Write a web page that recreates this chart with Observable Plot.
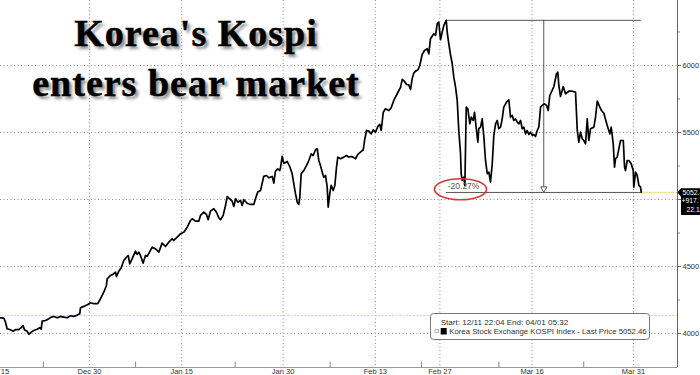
<!DOCTYPE html>
<html><head><meta charset="utf-8">
<script src="https://cdn.jsdelivr.net/npm/d3@7"></script>
<script src="https://cdn.jsdelivr.net/npm/@observablehq/plot@0.6"></script>
<style>
html,body{margin:0;padding:0;background:#fff;}
#wrap{position:relative;width:700px;height:375px;overflow:hidden;}
#title{position:absolute;left:0;top:8px;width:392px;text-align:center;font-family:"Liberation Serif","Times New Roman",serif;font-weight:bold;font-size:38px;line-height:50px;letter-spacing:1px;color:#000;-webkit-text-stroke:0.5px #000;text-shadow:3px 3px 3px rgba(0,0,0,0.45);pointer-events:none;}
#legend{position:absolute;left:430px;top:313px;}
</style></head>
<body><div id="wrap"><div id="chart"></div><div id="title">Korea's Kospi<br>enters bear market</div><div id="legend"></div></div>
<script>
// trading-day index (Dec 15 = 0) and KOSPI index level
const day = [0.35,0.71,0.89,1.07,1.43,1.72,1.97,2.33,2.59,2.81,2.95,3.24,3.42,3.68,3.96,4.33,4.61,4.76,4.87,5.23,5.59,5.85,6.13,6.50,6.85,7.21,7.58,7.94,8.30,8.67,8.95,9.02,9.38,9.82,10.11,10.47,10.90,11.19,11.55,11.84,11.92,12.28,12.64,12.82,12.93,13.18,13.44,13.72,14.01,14.20,14.37,14.63,14.99,15.17,15.35,15.53,15.82,16.07,16.26,16.80,17.16,17.52,17.88,18.24,18.60,18.97,19.14,19.51,19.87,20.23,20.60,20.95,21.14,21.50,21.85,22.04,22.40,22.69,22.87,23.12,23.48,23.77,24.02,24.21,24.50,24.75,24.94,25.22,25.48,25.65,25.84,26.08,26.38,26.56,26.74,27.10,27.46,27.82,28.00,28.25,28.55,28.90,29.20,29.45,29.82,29.99,30.17,30.42,30.64,30.72,30.90,31.07,31.44,31.72,31.98,32.16,32.34,32.53,32.70,32.81,32.96,33.24,33.54,33.79,34.05,34.26,34.51,34.70,34.87,35.05,35.24,35.41,35.60,35.78,35.89,36.06,36.21,36.43,36.61,36.79,36.93,37.22,37.58,37.87,38.12,38.38,38.60,38.85,39.10,39.39,39.69,39.83,40.04,40.29,40.55,40.77,41.02,41.27,41.49,41.64,41.86,42.10,42.46,42.72,43.00,43.37,43.73,43.92,44.17,44.38,44.63,44.82,45.00,45.17,45.36,45.61,45.82,46.08,46.33,46.63,46.80,46.98,47.34,47.53,47.71,47.88,48.07,48.25,48.43,48.69,48.80,48.97,49.15,49.34,49.51,49.70,49.88,50.05,50.24,50.31,50.42,50.60,50.71,50.86,51.03,51.25,51.40,51.62,51.76,51.97,52.12,52.22,52.41,52.59,52.77,52.95,53.14,53.31,53.49,53.68,53.85,54.04,54.22,54.39,54.58,54.76,54.93,55.23,55.48,55.66,55.85,56.02,56.20,56.39,56.56,56.75,56.93,57.10,57.29,57.47,57.65,57.83,58.02,58.19,58.37,58.56,58.73,58.92,59.10,59.35,59.57,59.75,59.92,60.18,60.36,60.65,60.79,60.90,61.08,61.38,61.63,61.99,62.35,62.71,62.90,63.07,63.25,63.44,63.61,63.80,63.98,64.15,64.34,64.70,64.88,65.07,65.35,65.53,65.78,66.15,66.43,66.58,66.80,66.94,67.05,67.23,67.41,67.59,67.89,68.03,68.13,68.32,68.49,68.75,68.97,69.03,69.22,69.40,69.58,69.76,69.84];
const kospi = [4117,4114,4084,4035,4028,4017,4028,4028,4043,4058,4028,4017,3993,4010,4022,4032,4043,4032,4092,4097,4110,4122,4127,4117,4127,4122,4117,4132,4127,4137,4147,4192,4202,4216,4229,4222,4222,4259,4308,4358,4408,4433,4446,4458,4425,4465,4490,4545,4569,4582,4520,4558,4614,4590,4607,4582,4525,4582,4575,4644,4632,4607,4674,4649,4681,4707,4694,4719,4744,4756,4793,4843,4856,4838,4838,4881,4905,4888,4849,4913,4931,4905,4864,4849,4881,4955,5022,5005,4987,4948,5005,4980,4993,4955,4998,4972,4963,4963,5005,5055,5067,5172,5179,5162,5172,5122,5211,5229,5216,5239,5321,5269,5284,5246,5192,5117,5043,4980,4963,5017,5192,5216,5254,5291,5341,5328,5371,5378,5291,5254,5204,5166,5179,5092,4943,5043,5105,5067,5105,5241,5316,5304,5316,5328,5316,5321,5316,5304,5336,5353,5371,5440,5515,5510,5490,5520,5502,5545,5560,5515,5651,5677,5664,5684,5739,5789,5836,5896,5881,5858,5855,5821,5903,5943,5958,5966,6000,6082,6112,6125,6087,6199,6237,6224,6311,6323,6192,6249,6299,6337,6246,6162,6082,6013,5913,5838,5739,5515,5341,5192,5142,5166,5105,5689,5677,5565,5614,5590,5651,5515,5428,5528,5540,5602,5465,5291,5192,5204,5129,5266,5478,5565,5590,5528,5540,5602,5689,5726,5744,5614,5627,5590,5602,5577,5565,5590,5528,5540,5490,5515,5485,5502,5478,5485,5470,5515,5540,5689,5702,5714,5702,5664,5776,5814,5843,5938,5950,5851,5769,5843,5789,5808,5808,5801,5515,5428,5502,5453,5440,5416,5602,5440,5528,5540,5614,5734,5689,5664,5644,5552,5490,5540,5416,5241,5304,5316,5378,5440,5440,5241,5216,5291,5291,5266,5216,5092,5204,5179,5105,5092,5052.46];

const tickDays = [0, 10, 20, 31, 41, 48, 58, 69];
const tickLabels = ["Dec 15","Dec 30","Jan 15","Jan 30","Feb 13","Feb 27","Mar 16","Mar 31"];
const minorDays = [5, 15, 25.8, 36.1, 46, 54.4, 63.6];
const yTicks = [4000, 4500, 5000, 5500, 6000];
const yMinor = [4250, 4750, 5250, 5750, 6250];
const startValue = 4135;
const netChange = "+917.";
const pctChange = "22.1";
const startLabel = "12/11 22:04";
const endLabel = "04/01 05:32";
const seriesName = "Korea Stock Exchange KOSPI Index";

const xDomain = [0.35, 73.77];
const yDomain = [3746, 6485];

const data = day.map((d, i) => ({day: d, value: kospi[i]}));
const peakIdx = d3.maxIndex(kospi);
const peakDay = day[peakIdx], peakVal = kospi[peakIdx];
const lastDay = day[day.length - 1], lastVal = kospi[kospi.length - 1];
const midDay = (peakDay + lastDay) / 2;
const drawdown = ((lastVal / peakVal - 1) * 100).toFixed(2) + "%";

const tagSymbol = {draw(ctx) {
  ctx.moveTo(0, 0); ctx.lineTo(3.5, -4.3); ctx.lineTo(30, -4.3); ctx.lineTo(30, 22.5);
  ctx.lineTo(3.5, 22.5); ctx.lineTo(3.5, 4.3); ctx.closePath();
}};
const ellipseSymbol = {draw(ctx) {
  const rx = 26, ry = 10.5, k = 0.5523;
  ctx.moveTo(rx, 0);
  ctx.bezierCurveTo(rx, k * ry, k * rx, ry, 0, ry);
  ctx.bezierCurveTo(-k * rx, ry, -rx, k * ry, -rx, 0);
  ctx.bezierCurveTo(-rx, -k * ry, -k * rx, -ry, 0, -ry);
  ctx.bezierCurveTo(k * rx, -ry, rx, -k * ry, rx, 0);
  ctx.closePath();
}};
const downTri = {draw(ctx) {
  ctx.moveTo(-3, -5.6); ctx.lineTo(3, -5.6); ctx.lineTo(0, 0); ctx.closePath();
}};

const grid = {stroke: "#8a8a8a", strokeDasharray: "1,2.5", strokeWidth: 1};
const tagRows = [lastVal.toFixed(2), netChange, pctChange];
const tagDx = [5, 4, 9];
const tagDy = [0, 8.8, 17.8];

const chart = Plot.plot({
  width: 700, height: 375,
  marginLeft: 0, marginRight: 23, marginTop: 0, marginBottom: 8,
  x: {type: "linear", domain: xDomain},
  y: {domain: yDomain},
  style: {background: "transparent", fontFamily: "'Liberation Sans', Arial, sans-serif"},
  marks: [
    Plot.ruleX(tickDays, grid),
    Plot.ruleY(yTicks, grid),
    Plot.ruleY([startValue], {stroke: "#ddd47f", strokeDasharray: "2,1.5", strokeWidth: 1}),
    Plot.ruleY([lastVal], {x1: () => lastDay, x2: () => xDomain[1], stroke: "#ebe49a", strokeWidth: 1.2}),
    Plot.ruleY([peakVal], {x1: () => peakDay, x2: () => lastDay, stroke: "#555", strokeWidth: 1}),
    Plot.ruleY([lastVal], {x1: () => peakDay, x2: () => lastDay, stroke: "#555", strokeWidth: 1}),
    Plot.ruleX([midDay], {y1: () => peakVal, y2: () => lastVal, stroke: "#555", strokeWidth: 1}),
    Plot.dot([midDay], {x: d => d, y: () => lastVal, symbol: downTri, r: 4, fill: "#fff", stroke: "#555", strokeWidth: 1}),
    Plot.line(data, {x: "day", y: "value", stroke: "#000", strokeWidth: 1.7, strokeLinejoin: "round"}),
    Plot.text([drawdown], {x: () => peakDay, y: () => lastVal, text: d => d, textAnchor: "start", dx: 1.5, dy: -6, fontSize: 8.5, fill: "#555"}),
    Plot.dot([drawdown], {x: () => peakDay, y: () => lastVal, dx: 14.3, dy: -3.2, symbol: ellipseSymbol, r: 10, fill: "none", stroke: "#d23c3c", strokeWidth: 1.6}),
    // axis lines
    Plot.ruleX([xDomain[1]], {stroke: "#666", strokeWidth: 1}),
    Plot.ruleY([yDomain[0]], {stroke: "#999", strokeWidth: 1}),
    Plot.ruleX(minorDays, {y1: () => yDomain[0], y2: () => yDomain[0] + 40, stroke: "#888"}),
    Plot.axisY({anchor: "right", ticks: yTicks, tickSize: 3, tickPadding: 2, tickFormat: d => (Math.abs(d - lastVal) < 120 ? "" : String(d)), fontSize: 7.5, fill: "#333", stroke: "#666", label: null}),
    Plot.axisY({anchor: "right", ticks: yMinor, tickSize: 2, tickFormat: () => "", stroke: "#888", label: null}),
    Plot.axisX({anchor: "bottom", ticks: tickDays, tickFormat: d => tickLabels[tickDays.indexOf(d)], tickSize: 0, tickPadding: 1.5, fontSize: 7.5, fill: "#333", label: null}),
    // last-price tag
    Plot.dot([lastVal], {x: () => xDomain[1], y: d => d, symbol: tagSymbol, r: 5, fill: "#000", stroke: "none"}),
    ...tagRows.map((t, i) => Plot.text([t], {x: () => xDomain[1], y: () => lastVal, text: d => d, textAnchor: "start", dx: tagDx[i], dy: tagDy[i], fontSize: 6.8, fill: "#fff"}))
  ]
});
document.getElementById("chart").appendChild(chart);

// legend box
const lg = d3.select("#legend").append("svg").attr("width", 222).attr("height", 28)
  .style("font-family", "'Liberation Sans', Arial, sans-serif").style("font-size", "7.8px");
lg.append("rect").attr("x", 0.5).attr("y", 0.5).attr("width", 219).attr("height", 26).attr("rx", 3)
  .attr("fill", "#fff").attr("stroke", "#777");
lg.append("text").attr("x", 10.7).attr("y", 12.2).attr("fill", "#333")
  .attr("textLength", 127.6).attr("lengthAdjust", "spacingAndGlyphs")
  .text(`Start: ${startLabel} End: ${endLabel}`);
lg.append("rect").attr("x", 5).attr("y", 16.3).attr("width", 3.4).attr("height", 3.4).attr("fill", "none").attr("stroke", "#999").attr("stroke-width", 0.7);
lg.append("rect").attr("x", 10.7).attr("y", 15).attr("width", 6).attr("height", 6.5).attr("fill", "#000");
lg.append("text").attr("x", 19.3).attr("y", 21.3).attr("fill", "#333")
  .attr("textLength", 197.4).attr("lengthAdjust", "spacingAndGlyphs")
  .text(`${seriesName} - Last Price ${lastVal.toFixed(2)}`);
</script>
</body></html>
